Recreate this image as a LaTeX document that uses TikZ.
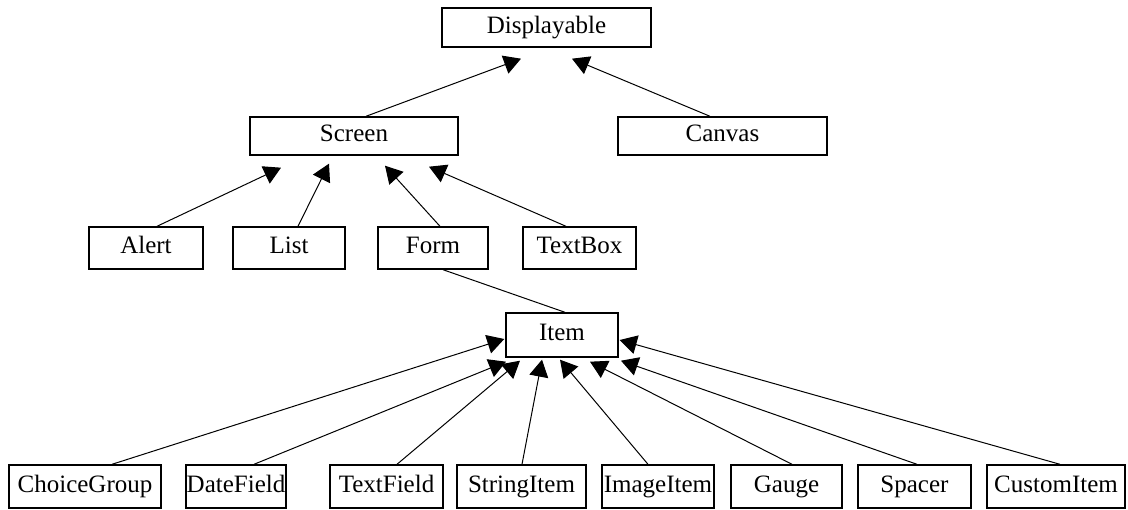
\documentclass[tikz,border=0pt]{standalone}
\usepackage{fontspec}
\setmainfont{Liberation Serif}
\usetikzlibrary{arrows.meta,calc}
\tikzset{
  cls/.style={draw, line width=1.4pt, inner sep=0pt, text height=16.5pt, text depth=5pt, font=\fontsize{25}{29}\selectfont, fill=white},
  gen/.style={line width=1pt, -{Triangle[length=17pt,width=19pt]}},
  assoc/.style={line width=1pt}
}
\begin{document}
\begin{tikzpicture}[x=1pt,y=-1pt]
\useasboundingbox (0,0) rectangle (1128,510);
% top
\node[cls, minimum width=209pt, minimum height=39pt] (disp) at (546.5,27.5) {Displayable};
\node[cls, minimum width=208pt, minimum height=38pt] (screen) at (354,136) {Screen};
\node[cls, minimum width=209pt, minimum height=38pt] (canvas) at (722.5,136) {Canvas};
% middle row
\node[cls, minimum width=114pt, minimum height=42pt] (alert) at (146,248) {Alert};
\node[cls, minimum width=112pt, minimum height=42pt] (list) at (289,248) {List};
\node[cls, minimum width=110pt, minimum height=42pt] (form) at (433,248) {Form};
\node[cls, minimum width=113pt, minimum height=42pt] (textbox) at (579.5,248) {TextBox};
% item
\node[cls, minimum width=112pt, minimum height=44pt] (item) at (562,335) {Item};
% bottom row
\node[cls, minimum width=152pt, minimum height=43pt] (choice) at (85,486.5) {ChoiceGroup};
\node[cls, minimum width=100pt, minimum height=43pt] (date) at (236,486.5) {DateField};
\node[cls, minimum width=113pt, minimum height=43pt] (textfield) at (386.5,486.5) {TextField};
\node[cls, minimum width=129pt, minimum height=43pt] (string) at (521.5,486.5) {StringItem};
\node[cls, minimum width=112pt, minimum height=43pt] (image) at (658,486.5) {ImageItem};
\node[cls, minimum width=111pt, minimum height=43pt] (gauge) at (786.5,486.5) {Gauge};
\node[cls, minimum width=113pt, minimum height=43pt] (spacer) at (914.5,486.5) {Spacer};
\node[cls, minimum width=138pt, minimum height=43pt] (custom) at (1056,486.5) {CustomItem};
% generalizations to Displayable
\draw[gen] ($(screen.north)+(12,0)$) -- ($(disp.south)+(-25.5,11)$);
\draw[gen] ($(canvas.north)+(-12.5,0)$) -- ($(disp.south)+(25.5,11)$);
% to Screen
\draw[gen] ($(alert.north)+(11,0)$) -- ($(screen.south)+(-73,12)$);
\draw[gen] ($(list.north)+(9,0)$) -- ($(screen.south)+(-25,8)$);
\draw[gen] ($(form.north)+(7,0)$) -- ($(screen.south)+(31,10)$);
\draw[gen] ($(textbox.north)+(-13.5,0)$) -- ($(screen.south)+(75,11)$);
% Form -- Item
\draw[assoc] ($(form.south)+(10,0)$) -- ($(item.north)+(3,0)$);
% to Item
\draw[gen] ($(choice.north)+(27,0)$) -- ($(item.west)+(-1,4)$);
\draw[gen] ($(date.north)+(18,0)$) -- ($(item.south)+(-56,4)$);
\draw[gen] ($(textfield.north)+(10.5,0)$) -- ($(item.south)+(-42,3)$);
\draw[gen] ($(string.north)+(0.5,0)$) -- ($(item.south)+(-20,2)$);
\draw[gen] ($(image.north)+(-10,0)$) -- ($(item.south)+(-2,2)$);
\draw[gen] ($(gauge.north)+(5.5,0)$) -- ($(item.south)+(28,4)$);
\draw[gen] ($(spacer.north)+(2.5,0)$) -- ($(item.south)+(59,3)$);
\draw[gen] ($(custom.north)+(4,0)$) -- ($(item.east)+(1,5)$);
\end{tikzpicture}
\end{document}
